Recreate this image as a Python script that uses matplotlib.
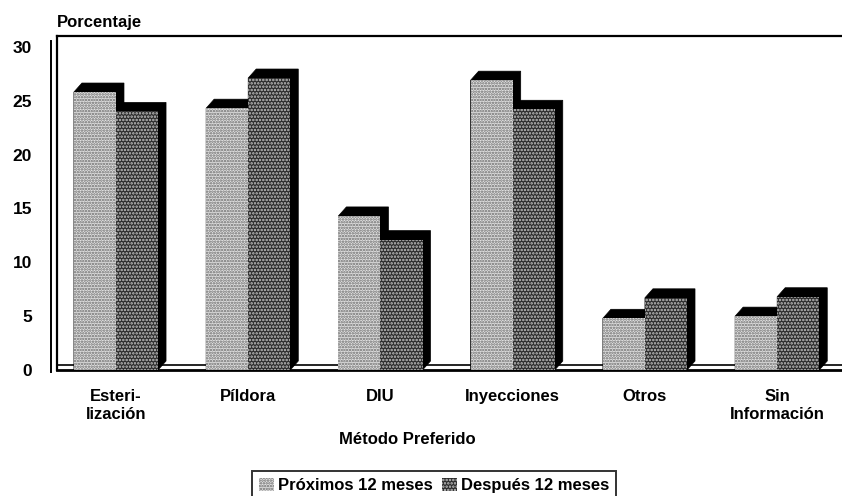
import matplotlib.pyplot as plt
import numpy as np
from matplotlib.patches import Polygon
from matplotlib.lines import Line2D


CATEGORIES = ["Esteri-\nlización", "Píldora", "DIU", "Inyecciones", "Otros", "Sin\nInformación"]
PROXIMOS = [25.8, 24.3, 14.3, 26.9, 4.8, 5.0]
DESPUES = [24.0, 27.1, 12.1, 24.2, 6.7, 6.8]
SERIES_LABELS = ["Próximos 12 meses", "Después 12 meses"]
Y_TICKS = [0, 5, 10, 15, 20, 25, 30]

FIG_W, FIG_H = 842, 496
BAR_W = 0.318
DEPTH_PX = (8.0, 9.0)


def draw_shadow(ax, x0, x1, h, dx, dy):
    verts = [(x0, 0), (x0, h), (x0 + dx, h + dy), (x1 + dx, h + dy), (x1 + dx, dy), (x1, 0)]
    ax.add_patch(Polygon(verts, closed=True, facecolor="black", edgecolor="black",
                         linewidth=0.5, zorder=2))


def main() -> None:
    plt.rcParams["font.family"] = ["Liberation Sans", "DejaVu Sans"]
    plt.rcParams["hatch.linewidth"] = 1.2

    fig = plt.figure(figsize=(FIG_W / 100, FIG_H / 100), dpi=100)
    ax = fig.add_axes([57 / FIG_W, 126 / FIG_H, (FIG_W - 57) / FIG_W, 334 / FIG_H])

    x = np.arange(len(CATEGORIES))
    ax.set_xlim(-0.446, 5.49)
    ax.set_ylim(0, 31.0)

    # pixel depth -> data units
    inv = ax.transData.inverted()
    p0 = inv.transform(ax.transData.transform((0, 0)))
    p1 = inv.transform(ax.transData.transform((0, 0)) + np.array(DEPTH_PX))
    dx, dy = p1 - p0

    # floor back edge
    ax.axhline(dy * 0.55, color="black", linewidth=1.2, zorder=1)

    for i in range(len(CATEGORIES)):
        xl = x[i] - BAR_W
        xd = x[i]
        draw_shadow(ax, xl, xl + BAR_W, PROXIMOS[i], dx, dy)
        ax.bar(xl, PROXIMOS[i], width=BAR_W, align="edge", facecolor="#e2e2e2",
               edgecolor="#6a6a6a", hatch="......", linewidth=0, zorder=3,
               label=SERIES_LABELS[0] if i == 0 else None)
        draw_shadow(ax, xd, xd + BAR_W, DESPUES[i], dx, dy)
        ax.bar(xd, DESPUES[i], width=BAR_W, align="edge", facecolor="#2c2c2c",
               edgecolor="#c4c4c4", hatch=".....", linewidth=0, zorder=5,
               label=SERIES_LABELS[1] if i == 0 else None)

    ax.set_xticks(x)
    ax.set_xticklabels(CATEGORIES, fontsize=12, fontweight="bold", linespacing=1.2)
    ax.set_yticks(Y_TICKS)
    ax.set_yticklabels([str(v) for v in Y_TICKS], fontsize=12.5, fontweight="bold")
    ax.tick_params(axis="both", length=0)
    ax.tick_params(axis="y", pad=18)
    ax.tick_params(axis="x", pad=14)

    ax.spines["right"].set_visible(False)
    ax.spines["top"].set_linewidth(1.6)
    ax.spines["left"].set_linewidth(1.6)
    ax.spines["bottom"].set_linewidth(2.0)

    # outer wall edge
    fig.add_artist(Line2D([51 / FIG_W, 51 / FIG_W], [124 / FIG_H, 455 / FIG_H],
                          transform=fig.transFigure, color="black", linewidth=1.4))

    fig.text(57 / FIG_W, 1 - 22 / FIG_H, "Porcentaje", fontsize=12, fontweight="bold",
             ha="left", va="center")
    fig.text(407 / FIG_W, 1 - 440 / FIG_H, "Método Preferido", fontsize=12,
             fontweight="bold", ha="center", va="center")

    leg = fig.legend(loc="lower center", bbox_to_anchor=(434 / FIG_W, -0.01), ncol=2,
                     fontsize=12, frameon=True, fancybox=False, handlelength=0.9,
                     handleheight=0.8, handletextpad=0.2, columnspacing=0.6,
                     borderpad=0.45, borderaxespad=0)
    leg.get_frame().set_edgecolor("black")
    leg.get_frame().set_linewidth(1.4)
    for t in leg.get_texts():
        t.set_fontweight("bold")

    fig.savefig("out.png", dpi=100)
    plt.close(fig)


if __name__ == "__main__":
    main()
